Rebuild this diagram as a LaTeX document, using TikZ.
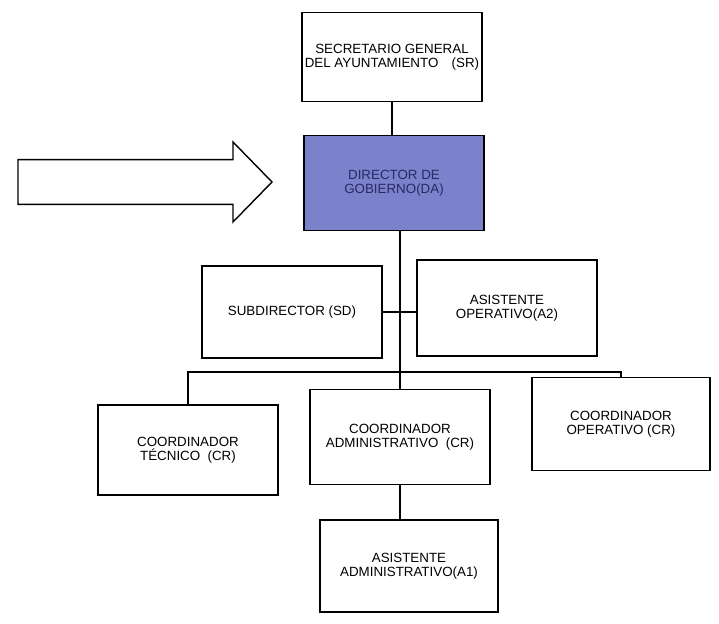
\documentclass[tikz,border=0pt]{standalone}
\usepackage{fontspec}
\setmainfont{Liberation Sans}
\usepackage{xcolor}
\definecolor{colorDirector}{RGB}{124,129,204}
\definecolor{colorDirectorText}{RGB}{40,42,100}
\usepackage{tikz}
\usetikzlibrary{positioning}
\tikzset{orgbox/.style={draw, line width=1.3pt, minimum width=4.5cm, minimum height=2.3cm, align=center, font=\fontsize{9.5}{10}\selectfont}}

\begin{document}
\begin{tikzpicture}[line width=0.8pt, every node/.style={inner sep=2pt}]
\useasboundingbox (0,0) rectangle (17.975,-15.6);
\node[orgbox, minimum height=2.225cm] (sr) at (9.8,-1.425) {SECRETARIO GENERAL\\DEL AYUNTAMIENTO\quad(SR)};
\node[orgbox, minimum height=2.375cm, fill=colorDirector, text=colorDirectorText] (da) at (9.85,-4.575) {DIRECTOR DE\\GOBIERNO(DA)};
% big arrow on the left
\draw[line width=1pt] (0.45,-3.99) -- (5.825,-3.99) -- (5.825,-3.55) -- (6.8,-4.55) -- (5.825,-5.55) -- (5.825,-5.11) -- (0.45,-5.11) -- cycle;
\node[orgbox] (sd) at (7.3,-7.8) {SUBDIRECTOR (SD)};
\node[orgbox, minimum height=2.4cm] (a2) at (12.675,-7.7) {ASISTENTE\\OPERATIVO(A2)};
\node[orgbox, minimum height=2.25cm] (ct) at (4.7,-11.25) {COORDINADOR\\TÉCNICO\ \ (CR)};
\node[orgbox, minimum height=2.375cm] (ca) at (10.0,-10.925) {COORDINADOR\\ADMINISTRATIVO\ \ (CR)};
\node[orgbox, minimum width=4.45cm, minimum height=2.325cm] (co) at (15.525,-10.6) {COORDINADOR\\OPERATIVO (CR)};
\node[orgbox, minimum width=4.45cm] (a1) at (10.225,-14.15) {ASISTENTE\\ADMINISTRATIVO(A1)};
\coordinate (bar) at (10.0,-9.3);
% lines
\draw (sr.south) -- (sr.south |- da.north);
\draw (da.south -| ca.north) -- (ca.north);
\draw (sd.east) -- (a2.west |- sd.east);
\draw (ct.north) |- (bar) -| (co.north);
\draw (ca.south) -- (ca.south |- a1.north);
\end{tikzpicture}
\end{document}
